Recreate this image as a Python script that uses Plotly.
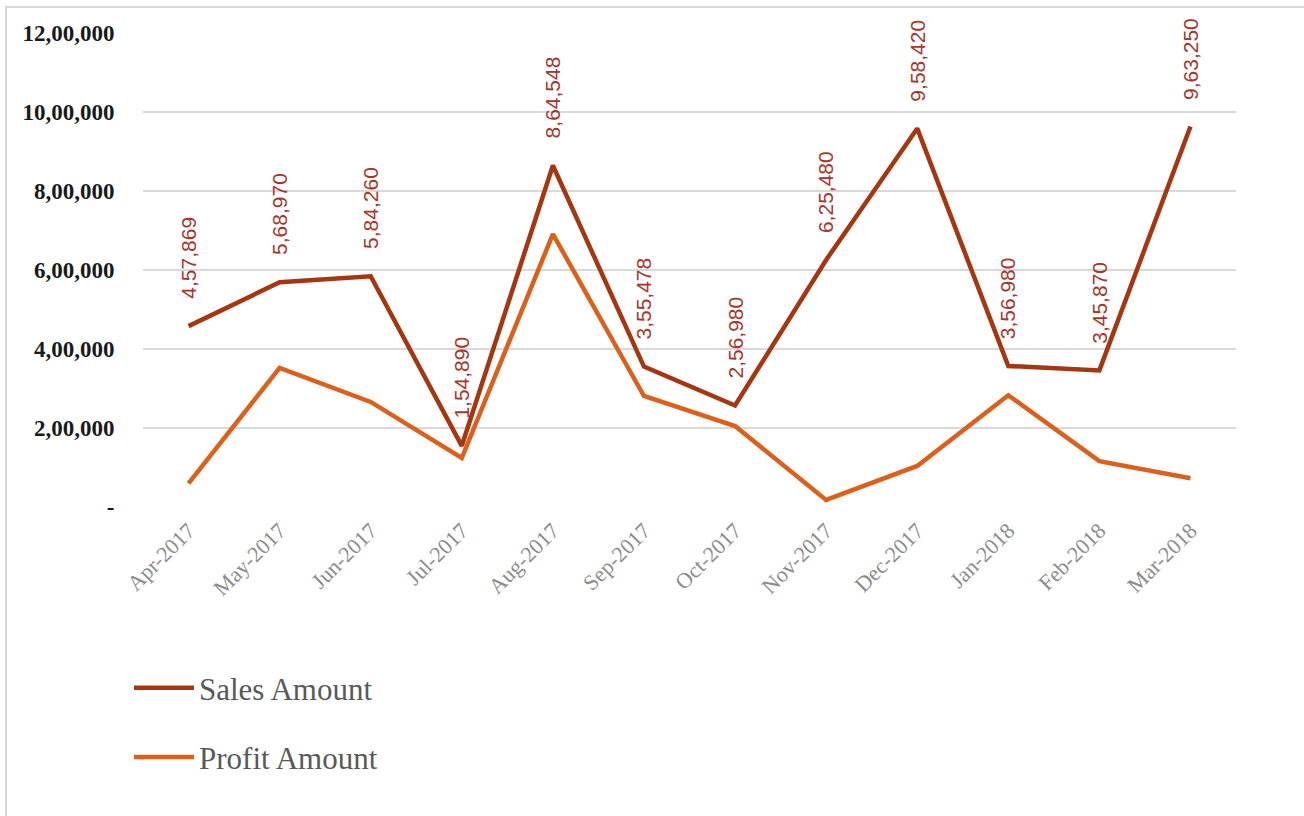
import plotly.graph_objects as go

months = ["Apr-2017", "May-2017", "Jun-2017", "Jul-2017", "Aug-2017", "Sep-2017",
          "Oct-2017", "Nov-2017", "Dec-2017", "Jan-2018", "Feb-2018", "Mar-2018"]
sales = [457869, 568970, 584260, 154890, 864548, 355478,
         256980, 625480, 958420, 356980, 345870, 963250]
sales_labels = ["4,57,869", "5,68,970", "5,84,260", "1,54,890", "8,64,548", "3,55,478",
                "2,56,980", "6,25,480", "9,58,420", "3,56,980", "3,45,870", "9,63,250"]
profit = [60000, 352000, 266000, 124000, 691000, 281000,
          205000, 18000, 104000, 283000, 116000, 73000]
y_tick_vals = [0, 200000, 400000, 600000, 800000, 1000000, 1200000]
y_tick_text = ["-", "2,00,000", "4,00,000", "6,00,000", "8,00,000", "10,00,000", "12,00,000"]

SALES_COLOR = "#A5360F"
PROFIT_COLOR = "#DC5F1A"
LABEL_COLOR = "#A8352A"

fig = go.Figure()
fig.add_trace(go.Scatter(x=months, y=sales, mode="lines", name="Sales Amount",
                         line=dict(color=SALES_COLOR, width=4.5), legendgroup="s"))
fig.add_trace(go.Scatter(x=months, y=profit, mode="lines", name="Profit Amount",
                         line=dict(color=PROFIT_COLOR, width=4.5), legendgroup="p"))

for m, v, t in zip(months, sales, sales_labels):
    fig.add_annotation(x=m, y=v, text=t, textangle=-90, showarrow=False,
                       xanchor="center", yanchor="bottom", yshift=25,
                       font=dict(family="Liberation Sans", size=21, color=LABEL_COLOR))

fig.add_shape(type="rect", xref="paper", yref="paper",
              x0=(6 - 143) / 1093, x1=(1330 - 143) / 1093,
              y0=(507 - 840) / 474, y1=(507 - 7) / 474,
              line=dict(color="#D9D9D9", width=2), fillcolor="rgba(0,0,0,0)", layer="below")

fig.update_layout(
    width=1304, height=816,
    margin=dict(l=143, r=68, t=33, b=309),
    paper_bgcolor="white", plot_bgcolor="white",
    showlegend=True,
    legend=dict(x=(129 - 143) / 1093, y=(507 - 661) / 474, xanchor="left", yanchor="top",
                orientation="v", tracegroupgap=26, itemwidth=60,
                font=dict(family="Liberation Serif", size=31, color="#595959")),
    xaxis=dict(type="category", range=[-0.5, 11.5], showgrid=False, zeroline=False,
               showline=False, tickangle=-45,
               tickfont=dict(family="Liberation Serif", size=22, color="#8C8C8C"),
               ticks="outside", ticklen=1, tickcolor="rgba(0,0,0,0)"),
    yaxis=dict(range=[0, 1200000], tickvals=y_tick_vals, ticktext=y_tick_text,
               showgrid=True, gridcolor="#D9D9D9", gridwidth=1.5, zeroline=False,
               showline=False,
               tickfont=dict(family="Liberation Serif", size=23, color="#1A1A1A", weight="bold"),
               ticks="outside", ticklen=23, tickcolor="rgba(0,0,0,0)"),
)

fig.write_html("out.html", post_script="document.body.style.margin='0';",
               config={"displayModeBar": False})
